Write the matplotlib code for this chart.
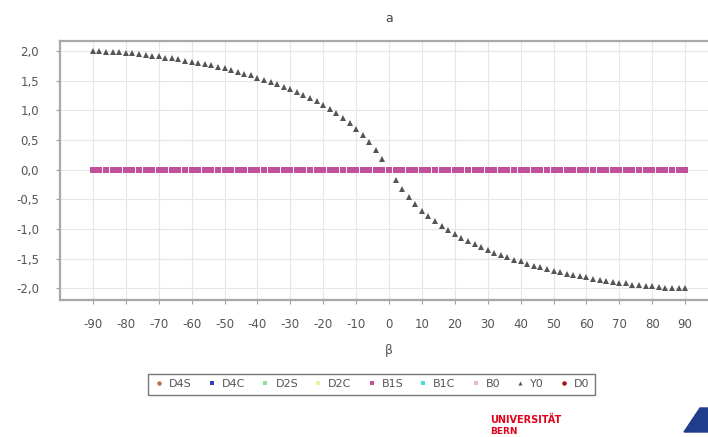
import matplotlib
matplotlib.use('agg')

import matplotlib.pyplot as plt
import matplotlib.ticker as ticker
from matplotlib.patches import Polygon

plt.rcParams['axes.unicode_minus'] = False

# beta in degrees, step 2
beta = list(range(-90, 91, 2))

# Y0
y0 = [2.00, 2.00, 1.99, 1.99, 1.98, 1.97, 1.96, 1.95, 1.94, 1.92,
      1.91, 1.89, 1.88, 1.86, 1.84, 1.82, 1.80, 1.78, 1.76, 1.73,
      1.71, 1.68, 1.65, 1.62, 1.59, 1.55, 1.52, 1.48, 1.44, 1.40,
      1.36, 1.31, 1.26, 1.21, 1.15, 1.09, 1.02, 0.95, 0.87, 0.78,
      0.69, 0.58, 0.46, 0.33, 0.18, 0.00,
      -0.18, -0.33, -0.46, -0.58, -0.69, -0.78, -0.87, -0.95, -1.02, -1.09,
      -1.15, -1.21, -1.26, -1.31, -1.36, -1.40, -1.44, -1.48, -1.52, -1.55,
      -1.59, -1.62, -1.65, -1.68, -1.71, -1.73, -1.76, -1.78, -1.80, -1.82,
      -1.84, -1.86, -1.88, -1.89, -1.91, -1.92, -1.94, -1.95, -1.96, -1.97,
      -1.98, -1.99, -1.99, -2.00, -2.00]

# B1S sits on zero everywhere
b1s = [0.0] * len(beta)

series_names = ['D4S', 'D4C', 'D2S', 'D2C', 'B1S', 'B1C', 'B0', 'Y0', 'D0']
series_colors = ['#b5704a', '#3040c0', '#90e090', '#f0f0a0', '#c0509a',
                 '#40e0e0', '#f4b8c8', '#555555', '#a01010']
series_markers = ['o', 's', 's', 's', 's', 's', 's', '^', 'o']

xticks = list(range(-90, 91, 10))
yticks = [-2.0, -1.5, -1.0, -0.5, 0.0, 0.5, 1.0, 1.5, 2.0]

fig = plt.figure(figsize=(7.08, 4.37), dpi=100)
ax = fig.add_axes([60 / 708, 1 - 300 / 437, 658 / 708, 259 / 437])

# draw series (only B1S and Y0 have points, rest are empty)
for name, col, mk in zip(series_names, series_colors, series_markers):
    z = 3
    if name == 'B1S':
        xs, ys = beta, b1s
        ms = 4.6
        z = 4
    elif name == 'Y0':
        xs, ys = beta, y0
        ms = 4.2
    else:
        xs, ys = [], []
        ms = 4.6
    ax.plot(xs, ys, linestyle='none', marker=mk, color=col, markersize=ms,
            markeredgewidth=0, label=name, zorder=z)

ax.set_xlim(-100, 100)
ax.set_ylim(-2.2, 2.17)
ax.set_xticks(xticks)
ax.set_yticks(yticks)
ax.yaxis.set_major_formatter(ticker.FuncFormatter(lambda v, p: ('%.1f' % v).replace('.', ',')))

ax.grid(True, color='#e6e6e6', linewidth=0.8)
ax.set_axisbelow(True)
for s in ax.spines.values():
    s.set_color('#a8a8a8')
    s.set_linewidth(1.6)
ax.tick_params(colors='#a0a0a0', labelcolor='#555555', labelsize=8.5, length=3, pad=12)
ax.tick_params(axis='x', pad=10)

ax.set_title('a', fontsize=9, color='#444444', pad=14)
ax.set_xlabel('\u03b2', fontsize=9, color='#555555', labelpad=9)

fig.legend(loc='center', bbox_to_anchor=(0.525, 0.121), ncol=9, fontsize=8,
           frameon=True, fancybox=False, edgecolor='#555555', handletextpad=0.4,
           columnspacing=1.3, handlelength=1.0, borderpad=0.5, markerscale=0.7,
           labelcolor='#555555')

# logos at the bottom
fig.text(490 / 708, 1 - 420 / 437, 'UNIVERSIT\u00c4T', color='#e2001a', fontsize=7,
         fontweight='bold', va='center', ha='left')
fig.text(490 / 708, 1 - 431 / 437, 'BERN', color='#e2001a', fontsize=6.5,
         fontweight='bold', va='center', ha='left')
fig.patches.append(Polygon([(684 / 708, 1 - 432 / 437), (700 / 708, 1 - 408 / 437),
                            (708 / 708, 1 - 408 / 437), (708 / 708, 1 - 432 / 437)],
                           closed=True, transform=fig.transFigure, color='#1f3d8c'))

plt.savefig('out.png', dpi=100)
